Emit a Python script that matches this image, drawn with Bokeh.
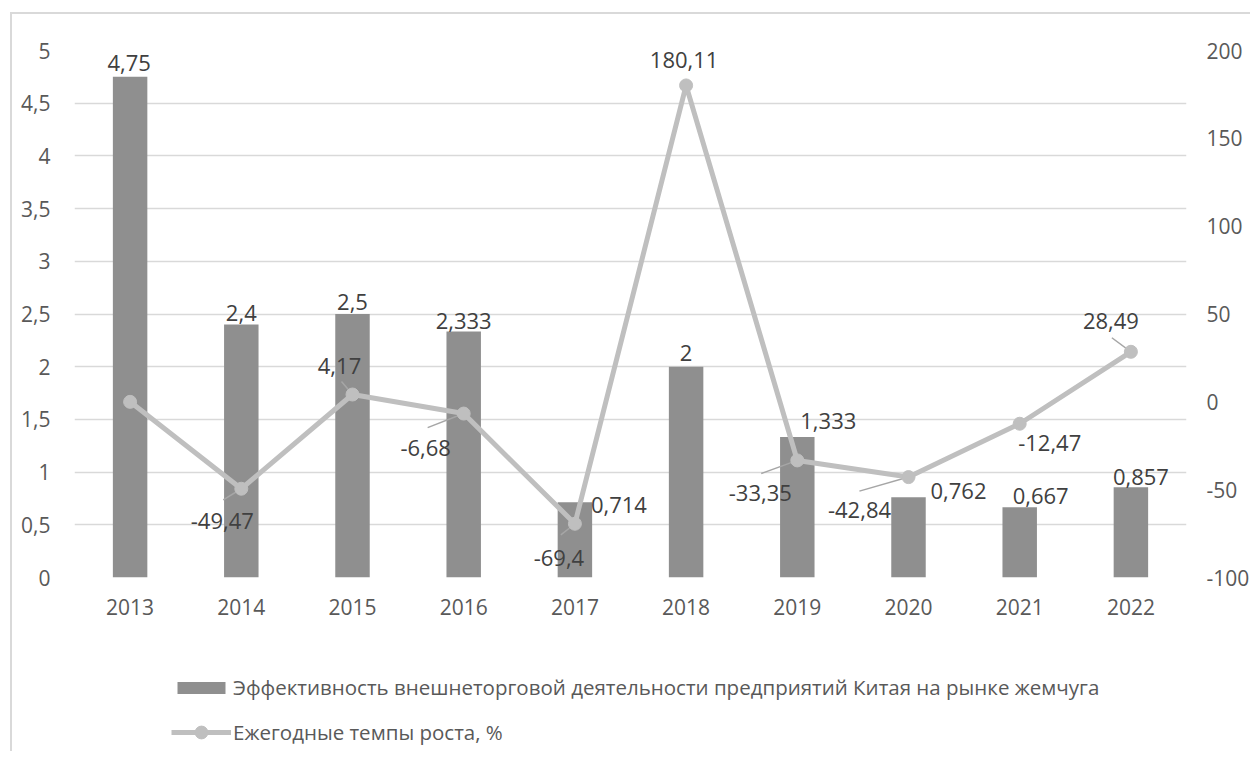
from bokeh.plotting import figure
from bokeh.layouts import column
from bokeh.models import (Range1d, LinearAxis, FixedTicker, ColumnDataSource, LabelSet,
                          Legend, LegendItem, CustomJSTickFormatter)
from bokeh.embed import file_html
from bokeh.resources import INLINE
from bokeh.core.properties import value

# ---------------- data ----------------
years = ["2013", "2014", "2015", "2016", "2017", "2018", "2019", "2020", "2021", "2022"]
efficiency = [4.75, 2.4, 2.5, 2.333, 0.714, 2.0, 1.333, 0.762, 0.667, 0.857]
efficiency_labels = ["4,75", "2,4", "2,5", "2,333", "0,714", "2", "1,333", "0,762", "0,667", "0,857"]
growth = [0.0, -49.47, 4.17, -6.68, -69.4, 180.11, -33.35, -42.84, -12.47, 28.49]
growth_labels = ["", "-49,47", "4,17", "-6,68", "-69,4", "180,11", "-33,35", "-42,84", "-12,47", "28,49"]
left_ticks = [0, 0.5, 1, 1.5, 2, 2.5, 3, 3.5, 4, 4.5, 5]
right_ticks = [-100, -50, 0, 50, 100, 150, 200]
bar_name = "Эффективность внешнеторговой деятельности предприятий Китая на рынке жемчуга"
line_name = "Ежегодные темпы роста, %"

# ---------------- label placement (screen px, y down) ----------------
bar_lbl_dx = [-1, 0, 0, 0, 44, 0, 31, 50, 21, 10]
bar_lbl_dy = [-14, -12, -12, -11, 3, -14, -16, -6, -11, -10]
gr_lbl_dx = [0, -19, -13, -38, -16, -2, -37, -49, 30, -20]
gr_lbl_dy = [0, 32, -29, 34, 34, -25, 33, 33, 19, -31]
# leader line far end relative to the point (px, y down); None = no leader
lead_dx = [None, -18, -11, -36, -14, None, -36, -49, None, -19]
lead_dy = [None, 11, -13, 14, 11, None, 13, 14, None, -14]

FW, FH = 1110, 525
x_lo, x_hi = -0.5, 9.5
g_lo, g_hi = -100, 200
px_x = FW / (x_hi - x_lo)
px_g = FH / (g_hi - g_lo)

BAR_COLOR = "#8f8f8f"
LINE_COLOR = "#bfbfbf"
FONT = "Open Sans"
TICK_COLOR = "#595959"
LABEL_COLOR = "#404040"
BORDER = "2px solid #d9d9d9"

xs = list(range(len(years)))
src = ColumnDataSource(dict(
    x=xs, eff=efficiency, eff_label=efficiency_labels, growth=growth, growth_label=growth_labels,
    bdx=bar_lbl_dx, bdy=[-d for d in bar_lbl_dy],
    gdx=gr_lbl_dx, gdy=[-d for d in gr_lbl_dy],
))

lx0, ly0, lx1, ly1 = [], [], [], []
for i in xs:
    if lead_dx[i] is None:
        continue
    lx0.append(i + lead_dx[i] / px_x)
    ly0.append(growth[i] - lead_dy[i] / px_g)
    lx1.append(i)
    ly1.append(growth[i])
lead_src = ColumnDataSource(dict(x0=lx0, y0=ly0, x1=lx1, y1=ly1))

p = figure(frame_width=FW, frame_height=FH,
           x_range=Range1d(x_lo, x_hi), y_range=Range1d(0, 5),
           output_backend="svg", toolbar_location=None,
           min_border_left=62, min_border_top=36, min_border_bottom=60, min_border_right=10,
           margin=(12, 0, 0, 10))
p.styles = {"border-left": BORDER, "border-top": BORDER}
p.outline_line_color = None
p.background_fill_color = "white"
p.border_fill_color = "white"
p.extra_y_ranges = {"growth": Range1d(g_lo, g_hi)}

# x axis
p.xaxis.ticker = FixedTicker(ticks=xs)
p.xaxis.formatter = CustomJSTickFormatter(args=dict(years=years), code="return years[Math.round(tick)];")
# left axis
p.yaxis.ticker = FixedTicker(ticks=left_ticks)
p.yaxis.formatter = CustomJSTickFormatter(code="return tick.toString().replace('.', ',');")
# right axis
raxis = LinearAxis(y_range_name="growth", ticker=FixedTicker(ticks=right_ticks),
                   formatter=CustomJSTickFormatter(code="return tick.toString();"))
p.add_layout(raxis, "right")

for ax in [p.xaxis[0], p.yaxis[0], raxis]:
    ax.axis_line_color = None
    ax.major_tick_line_color = None
    ax.minor_tick_line_color = None
    ax.major_tick_out = 0
    ax.major_tick_in = 0
    ax.minor_tick_out = 0
    ax.minor_tick_in = 0
    ax.major_label_text_font = FONT
    ax.major_label_text_font_size = "21px"
    ax.major_label_text_color = TICK_COLOR
p.xaxis.major_label_standoff = 21
p.yaxis[0].major_label_standoff = 24
raxis.major_label_standoff = 20

p.xgrid.grid_line_color = None
p.ygrid.grid_line_color = "#d9d9d9"
p.ygrid.grid_line_width = 1.5

bars = p.vbar(x="x", top="eff", width=0.31, source=src, fill_color=BAR_COLOR, line_color=None)

p.segment(x0="x0", y0="y0", x1="x1", y1="y1", source=lead_src, y_range_name="growth",
          line_color="#a6a6a6", line_width=1.5)

line_r = p.line(x="x", y="growth", source=src, y_range_name="growth",
                line_color=LINE_COLOR, line_width=5)
dots = p.scatter(x="x", y="growth", source=src, y_range_name="growth", marker="circle",
                 size=13, fill_color=LINE_COLOR, line_color=LINE_COLOR)

p.add_layout(LabelSet(x="x", y="eff", text="eff_label", source=src,
                      x_offset="bdx", y_offset="bdy", text_align="center", text_baseline="middle",
                      text_font=value(FONT), text_font_size="22px", text_color=LABEL_COLOR))
p.add_layout(LabelSet(x="x", y="growth", text="growth_label", source=src, y_range_name="growth",
                      x_offset="gdx", y_offset="gdy", text_align="center", text_baseline="middle",
                      text_font=value(FONT), text_font_size="22px", text_color=LABEL_COLOR))

# ---------------- legend strip below the chart ----------------
# (its swatch renderers sit entirely outside the visible ranges; only the legend is seen)
LW, LH = 1236, 116
lg = figure(width=LW, height=LH, x_range=Range1d(0, 1), y_range=Range1d(0, 1),
            output_backend="svg", toolbar_location=None,
            x_axis_location=None, y_axis_location=None,
            min_border_left=0, min_border_right=0, min_border_top=0, min_border_bottom=0,
            margin=(0, 0, 0, 10))
lg.styles = {"border-left": BORDER}
lg.outline_line_color = None
lg.background_fill_color = "white"
lg.border_fill_color = "white"
lg.xgrid.grid_line_color = None
lg.ygrid.grid_line_color = None
lg.grid.visible = False
lg_bar = lg.vbar(x=[-10], top=[-5], bottom=[-6], width=0.31, fill_color=BAR_COLOR, line_color=None)
lg_line = lg.line(x=[-10, -9], y=[-5, -5], line_color=LINE_COLOR, line_width=5)
lg_dot = lg.scatter(x=[-10], y=[-5], marker="circle", size=13, fill_color=LINE_COLOR, line_color=LINE_COLOR)

common = dict(orientation="vertical", label_standoff=2, label_height=26, padding=0, margin=0,
              border_line_color=None, background_fill_alpha=0, glyph_width=60,
              label_text_font=FONT, label_text_font_size="20.5px", label_text_color=TICK_COLOR)
legend_bar = Legend(items=[LegendItem(label=bar_name, renderers=[lg_bar])],
                    location=(97, 50), glyph_height=15, **common)
legend_line = Legend(items=[LegendItem(label=line_name, renderers=[lg_line, lg_dot])],
                     location=(97, 3), glyph_height=32, **common)
lg.add_layout(legend_bar)
lg.add_layout(legend_line)

layout = column(p, lg, spacing=0)
open("out.html", "w").write(file_html(layout, INLINE))
